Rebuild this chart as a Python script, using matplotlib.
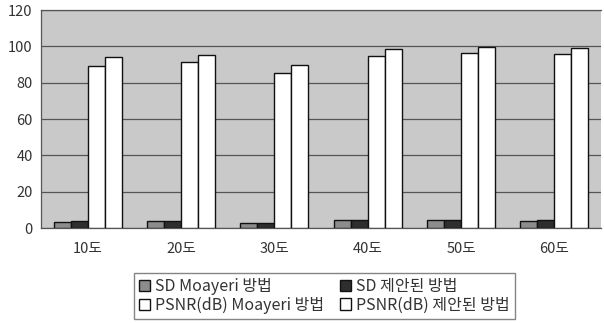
import matplotlib
matplotlib.use("Agg")
import matplotlib.pyplot as plt
import numpy as np

plt.rcParams['font.family'] = ['Noto Sans CJK KR', 'DejaVu Sans']

categories = ["10도", "20도", "30도", "40도", "50도", "60도"]
sd_moayeri = [3.5, 4.0, 3.0, 4.4, 4.5, 4.0]
sd_proposed = [4.0, 4.0, 3.0, 4.5, 4.5, 4.5]
psnr_moayeri = [89.3, 91.5, 85.1, 94.7, 96.5, 95.6]
psnr_proposed = [94.0, 95.2, 90.0, 98.3, 99.8, 99.2]
series_names = ["SD Moayeri 방법", "SD 제안된 방법", "PSNR(dB) Moayeri 방법", "PSNR(dB) 제안된 방법"]
yticks = [0, 20, 40, 60, 80, 100, 120]

fig = plt.figure(figsize=(6.04, 3.23), dpi=100)
ax = fig.add_axes([0.068, 0.294, 0.927, 0.675])
ax.set_facecolor('#c9c9c9')

x = np.arange(len(categories))
w = 0.182
series = [sd_moayeri, sd_proposed, psnr_moayeri, psnr_proposed]
colors = ['#8c8c8c', '#2e2e2e', 'white', 'white']
handles = []
for i, (vals, c, name) in enumerate(zip(series, colors, series_names)):
    b = ax.bar(x + (i - 1.5) * w, vals, w, color=c, edgecolor='#111111', linewidth=1.0, label=name, zorder=3)
    handles.append(b)

ax.set_xlim(-0.5, len(categories) - 0.5)
ax.set_ylim(0, 120)
ax.set_yticks(yticks)
ax.yaxis.grid(True, color='#555555', linewidth=0.9, zorder=0)
ax.set_axisbelow(True)
ax.set_xticks(x)
ax.set_xticklabels(categories, fontsize=10.5, color='#333333')
ax.tick_params(axis='y', labelsize=10.5, colors='#333333', length=0, pad=6)
ax.tick_params(axis='x', length=0, pad=10)
for s in ['top', 'right', 'left', 'bottom']:
    ax.spines[s].set_color('#555555')
    ax.spines[s].set_linewidth(0.9)
ax.spines['right'].set_visible(False)

order = [0, 2, 1, 3]
leg = fig.legend([handles[i] for i in order], [series_names[i] for i in order],
                 loc='center', bbox_to_anchor=(0.537, 0.084), ncol=2, fontsize=11.5,
                 frameon=True, fancybox=False, edgecolor='#666666', handlelength=0.7,
                 handleheight=0.7, handletextpad=0.3, columnspacing=1.0, labelspacing=0.1,
                 borderpad=0.3, borderaxespad=0)
for t in leg.get_texts():
    t.set_color('#333333')

fig.savefig('out.png', dpi=100)
